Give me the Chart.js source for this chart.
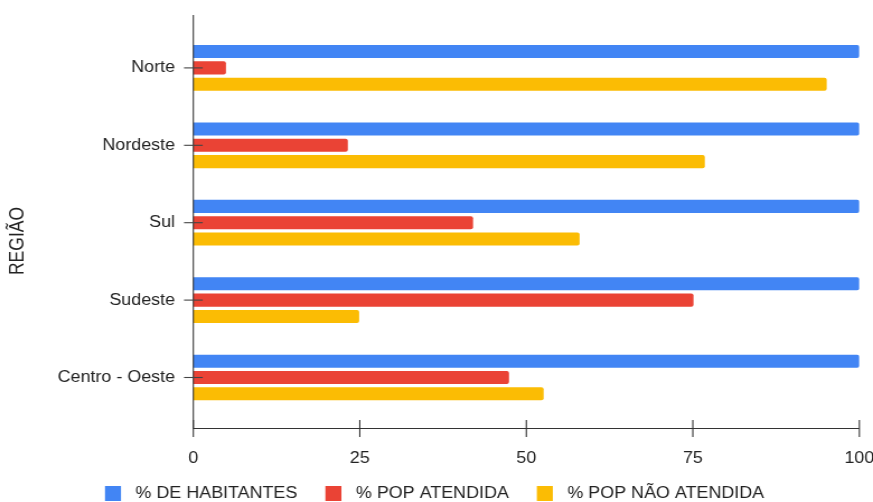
<!DOCTYPE html>
<html>
<head>
<meta charset="utf-8">
<script src="https://cdn.jsdelivr.net/npm/chart.js@4"></script>
<style>
  html, body { margin: 0; padding: 0; background: #fff; overflow: hidden; }
</style>
</head>
<body>
<!-- canvas is drawn narrower and widened by CSS for the wide type look -->
<canvas id="c" width="780" height="502" style="display:block;width:873px;height:502px"></canvas>
<script>
// Regions and shares of the population (%)
const regioes = ['Norte', 'Nordeste', 'Sul', 'Sudeste', 'Centro - Oeste'];
const habitantes = [100, 100, 100, 100, 100];
const popAtendida = [4.9, 23.2, 42, 75.1, 47.4];
const popNaoAtendida = [95.1, 76.8, 58, 24.9, 52.6];
const xTicks = [0, 25, 50, 75, 100];
const seriesNames = ['% DE HABITANTES', '% POP ATENDIDA', '% POP NÃO ATENDIDA'];
const seriesColors = ['#4285F4', '#EA4335', '#FBBC04'];
const axisTitle = 'REGIÃO';

const FONT = '"Liberation Sans", Arial, sans-serif';
const TEXT = '#222222';
const LINE = '#333333';

// Axis lines, tick marks, vertical title and legend
const chromePlugin = {
  id: 'chrome',
  afterDraw(chart) {
    const { ctx, scales: { x, y } } = chart;
    const x0 = x.getPixelForValue(0);
    const axisY = 428.5;
    const seg = (a, b, c, d) => { ctx.beginPath(); ctx.moveTo(a, b); ctx.lineTo(c, d); ctx.stroke(); };
    ctx.save();
    ctx.strokeStyle = LINE;
    ctx.lineWidth = 1.1;
    seg(x0, 15, x0, axisY);
    seg(x0, axisY, x.getPixelForValue(100), axisY);
    xTicks.forEach(v => {
      const px = x.getPixelForValue(v);
      seg(px, 420, px, 437);
    });
    ctx.strokeStyle = '#444';
    regioes.forEach((_, i) => {
      const py = y.getPixelForValue(i);
      seg(x0 - 8.3, py, x0 + 8.4, py);
    });

    // vertical axis title
    ctx.save();
    ctx.translate(16.1, 241);
    ctx.rotate(-Math.PI / 2);
    ctx.fillStyle = TEXT;
    ctx.font = '17.5px ' + FONT;
    ctx.textAlign = 'center';
    ctx.textBaseline = 'middle';
    ctx.fillText(axisTitle, 0, 0);
    ctx.restore();

    // legend
    ctx.font = '16px ' + FONT;
    ctx.textAlign = 'left';
    ctx.textBaseline = 'middle';
    let lx = 93.8;
    const boxW = 14.3, boxH = 15, boxTop = 486, gap = 13, itemGap = 25;
    chart.data.datasets.forEach(ds => {
      ctx.fillStyle = ds.backgroundColor;
      ctx.fillRect(lx, boxTop, boxW, boxH);
      const tx = lx + boxW + gap;
      ctx.fillStyle = TEXT;
      ctx.fillText(ds.label, tx, boxTop + boxH / 2 + 0.5);
      lx = tx + ctx.measureText(ds.label).width + itemGap;
    });
    ctx.restore();
  }
};

const seriesData = [habitantes, popAtendida, popNaoAtendida];

const chart = new Chart(document.getElementById('c'), {
  type: 'bar',
  data: {
    labels: regioes,
    datasets: seriesNames.map((name, i) => ({
      label: name,
      data: seriesData[i],
      backgroundColor: seriesColors[i],
      borderRadius: 2,
      barPercentage: 0.8,
      categoryPercentage: 0.633
    }))
  },
  options: {
    indexAxis: 'y',
    responsive: false,
    animation: false,
    devicePixelRatio: 1,
    layout: { padding: { top: 29.2, right: 12.2, bottom: 0, left: 0 } },
    plugins: { legend: { display: false }, tooltip: { enabled: false } },
    scales: {
      x: {
        type: 'linear',
        min: 0,
        max: 100,
        afterBuildTicks: s => { s.ticks = xTicks.map(v => ({ value: v })); },
        afterFit: s => { s.height = 85.8; s.paddingLeft = 0; s.paddingRight = 0; },
        grid: { display: false, drawTicks: false },
        border: { display: false },
        ticks: { padding: 32.5, color: TEXT, font: { family: FONT, size: 16 }, maxRotation: 0 }
      },
      y: {
        afterFit: s => { s.width = 172.7; s.paddingTop = 0; s.paddingBottom = 0; },
        grid: { display: false, drawTicks: false },
        border: { display: false },
        ticks: { padding: 16.3, color: TEXT, font: { family: FONT, size: 16 } }
      }
    }
  },
  plugins: [chromePlugin]
});
chart.canvas.style.width = '873px';
chart.canvas.style.height = '502px';
</script>
</body>
</html>
